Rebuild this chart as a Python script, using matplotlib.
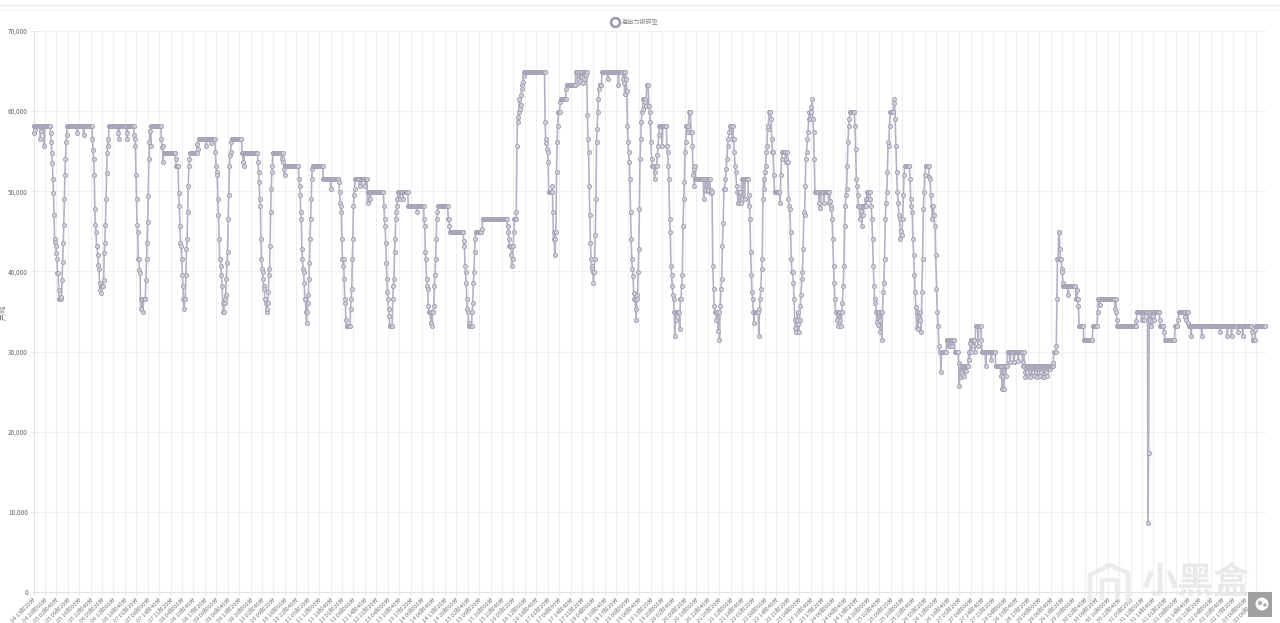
from __future__ import annotations

import matplotlib

matplotlib.use("Agg")
import matplotlib.pyplot as plt
import numpy as np
import pandas as pd
from matplotlib.lines import Line2D
from matplotlib.patches import Circle, Rectangle

plt.rcParams["font.family"] = ["Noto Sans CJK SC", "DejaVu Sans"]

# one sample every 20 minutes, wave_starts is the sample index where a wave begins
wave_starts = [0, 59, 132, 206, 274, 347, 419, 489, 563, 638, 708, 774, 846, 949, 995, 1067,
               1098, 1159, 1242, 1292, 1364, 1429, 1508, 1569, 1586, 1639, 1705, 1791, 1896,
               1931, 1972, 2024, 2157]

wave_01 = [58200, 57300, 57600] + [58200] * 9 + [56500, 57500] + [58200] * 5 + [55700] + [58200] * 10 + [
    57300, 56200, 54800, 53500, 51500, 49800, 47000, 44000, 43700, 43200, 42300, 41500, 39800, 39800,
    37700, 36500, 36500, 36500, 36500, 36800, 38900, 41200, 43600, 45800, 49000, 52000, 54000, 56200, 57000]
wave_02 = [58200] * 17 + [57300] + [58200] * 10 + [57000] + [58200] * 14 + [
    56500, 55200, 54000, 52000, 47800, 45800, 44900, 43200, 43200, 42000, 40800, 40300, 38500, 37700,
    37300, 38200, 38200, 38200, 38200, 38900, 42300, 43600, 45800, 49000, 52300, 54800, 56500, 55700]
wave_03 = [58200] * 16 + [57300, 56500] + [58200] * 12 + [57300, 56500] + [58200] * 11 + [
    57000, 56500, 55700, 52000, 49000, 45800, 44900, 41500, 41500, 40200, 39800, 35300, 36500, 36500,
    36500, 35000, 36500, 36500, 36500, 36500, 38900, 41500, 43600, 46200, 49400, 54000, 56200, 57500, 55700]
wave_04 = [58200] * 17 + [56500, 55500, 55700, 53700] + [54800] * 20 + [54000, 53200, 53200, 53200, 53200] + [
    49800, 48200, 45700, 43600, 43200, 41500, 39500, 38200, 36500, 35300, 36500, 36500, 39500, 42800,
    44000, 47400, 50700, 53200, 54000]
wave_05 = [54800] * 12 + [55900, 55300] + [56500] * 13 + [55700] + [56500] * 6 + [56000] + [56500] * 7 + [
    54870, 53200, 52400, 52000, 49000, 47000, 44000, 41500, 41500, 40700, 39500, 38200, 36100, 34900,
    34900, 36100, 36500, 37000, 39000, 41100, 42400, 46500, 49500, 53200, 54500, 54870, 56100]
wave_06 = [56500] * 18 + [54800, 54800, 53600, 53200] + [54800] * 24 + [
    53600, 52400, 51100, 49000, 48200, 44000, 41500, 40300, 39900, 39000, 38200, 37800, 36500, 36500,
    36100, 34900, 35300, 36100, 37400, 39500, 40300, 43200, 47400, 50300, 52400, 53200]
wave_07 = [54800] * 15 + [54000, 54800, 53600, 54800, 52800, 52000] + [53200] * 24 + [
    51500, 50700, 49500, 47400, 46500, 42800, 41500, 40300, 39900, 38600, 36500, 36500, 34900, 33600,
    34900, 36100, 37000, 39000, 41100, 44000, 46500, 49000, 51500, 52800]
wave_08 = [53200] * 18 + [51500] * 13 + [50300] + [51500] * 13 + [
    51100, 49900, 48600, 48200, 47400, 44000, 41500, 40700, 41500, 39000, 36500, 36100, 34000, 33200,
    33200, 33200, 33200, 33200, 33200, 33200, 35300, 36500, 37800, 41500, 44000, 48200, 49500, 50300]
wave_09 = [51500] * 8 + [50900, 50600] + [51500] * 7 + [50700] + [51500] * 3 + [48600] + [49900] * 4 + [49000] + [49900] * 22 + [
    48200, 46500, 45700, 43600, 41100, 39000, 37400, 36500, 35300, 34500, 33200, 33200, 33200, 33200,
    33200, 36500, 38200, 39000, 42400, 44000, 46500, 47400, 48200, 49000]
wave_10 = [49900] * 3 + [49000] + [49900] * 4 + [49000] + [49900] * 8 + [48200] * 14 + [47400] + [48200] * 11 + [
    46500, 45700, 42400, 41500, 39000, 38200, 37800, 35700, 34900, 34900, 34900, 33600, 34900, 33200,
    34900, 34900, 35700, 38200, 39500, 41500, 44000, 46500, 47400]
wave_11 = [48200] * 17 + [46500, 46500, 45700] + [44900] * 23 + [
    43800, 43200, 40700, 39900, 38600, 36500, 35300, 34900, 33600, 33200, 33200, 33200, 33200, 33200,
    34900, 36100, 38600, 39900, 42400, 44000]
wave_12 = [44900] * 10 + [45300] + [46500] * 40 + [
    45700, 44900, 44000, 43200, 43200, 43200, 42000, 40700, 41500, 43200, 44900, 46500, 46500, 46500, 47400]
wave_13 = [55700, 58600, 59300, 59900, 61500, 60300, 60800, 62000, 62800, 63200, 63600, 64400] + [64900] * 35 + [
    58600, 56500, 56000, 55300, 54900, 53600] + [49900] * 6 + [
    50700, 47400, 44000, 44900, 42000, 44000, 44900, 52400, 56100, 58200, 59900, 59900, 59900, 61100] + [
    61500] * 9 + [62800] + [63200] * 15
wave_14 = [64900] * 3 + [64000, 63500, 64900, 64900, 63800, 64300, 64900, 64900, 64300, 63500, 64900, 64000,
                         64900, 64900, 64500, 64900] + [
    59500, 56500, 54900, 50700, 47000, 43600, 41500, 40700, 40300, 39900, 38600, 39900, 41500, 44500,
    49000, 56100, 57800, 59900, 61500, 62800] + [63200] * 4
wave_15 = [64900] * 9 + [64000] + [64900] * 16 + [63200] + [64900] * 6 + [64000, 64900, 63500, 62200, 64900, 64000, 62500] + [
    58200, 56100, 54900, 53600, 51500, 47400, 44000, 41500, 40300, 39400, 37300, 36500, 36500, 35300,
    34000, 36500, 37000, 39900, 42800, 47800, 54000, 56500, 58600, 59900, 60300]
wave_16 = [61500, 61500, 61500, 61100, 60700, 63200, 63200, 63200, 60700, 59900, 58600, 56100, 54000, 53200,
           53200, 53200, 51500, 52400, 53200, 53200, 54500, 55700, 57000, 58200, 58200]
wave_17 = [58200, 58200, 55700] + [58200] * 6 + [
    55700, 54900, 53200, 51500, 46500, 44900, 40700, 39500, 38200, 37000, 36500, 34900, 32000, 34900,
    34000, 34900, 34900, 34900, 34900, 32800, 36500, 36500, 38200, 39500, 45700, 49000, 51100, 54900,
    56100, 58200, 58200, 57400, 58200, 59900, 59900, 59900, 57400, 57400, 55700, 52000, 52800, 50700, 53200]
wave_18 = [51500] * 11 + [49000, 51500, 50200, 51500, 50000, 51500, 50200, 51500, 51500, 49800, 50200, 49900] + [
    40700, 37800, 35700, 34900, 34900, 33900, 34900, 32600, 34900, 31500, 35700, 37800, 39000, 43200,
    46100, 50300, 50300, 51500, 52800, 54000, 55700, 56500, 57400, 58200, 58200, 58200, 56500, 58200,
    56500, 54900, 53200, 52400, 50700, 49900, 48600, 49900, 48600, 49900, 48600, 51500, 49000]
wave_19 = [51500, 51500, 49000] + [51500] * 5 + [
    48200, 49500, 46500, 42400, 39500, 37400, 36500, 34900, 33600, 34900, 34900, 34900, 34900, 34900,
    34900, 32000, 35300, 36500, 37800, 40300, 41500, 49000, 51500, 50300, 52400, 53200, 54900, 55700,
    57800, 58200, 59900, 59900, 59900, 59000]
wave_20 = [56500, 54900, 54900, 52000] + [49900] * 8 + [48600, 52000, 54000] + [54900] * 5 + [
    53600, 54000, 54900, 53600, 49000, 48200, 47800, 44900, 41500, 39900, 39900, 38600, 36500, 34000,
    33000, 32400, 34000, 34900, 33500, 32400, 34000, 35700, 37000, 39000, 39900, 42800, 47400, 47000,
    50700, 54000, 54900, 56500, 57400, 59000, 59900, 59000, 59900, 60500, 61500]
wave_21 = [59000, 57400, 54000] + [49900] * 6 + [48500, 49900, 47900] + [49900] * 4 + [48500] + [49900] * 6 + [48500, 49900, 48800] + [
    48200, 47800, 46500, 44000, 40700, 38600, 36500, 34900, 34900, 33900, 34900, 33200, 34900, 34000,
    34900, 33200, 34900, 36100, 38200, 40700, 45700, 48200, 49500, 50300, 53200, 56100, 58200, 59000]
wave_22 = [59900] * 7 + [
    58200, 55300, 51500, 50700, 49500, 48200, 48200, 46500, 48200, 47500, 45700, 48200, 47000, 48200,
    48200, 49000, 48200, 49900, 49000, 49900, 49900, 49900, 49000, 48200, 46500, 44000, 40700, 38200,
    36100, 36500, 34900, 33700, 34900, 33300, 34900, 32400, 34000, 34900, 31500, 34900, 37400, 38600,
    41500, 46500, 48600, 49900, 52400, 56100, 55700, 58200, 59900, 59900, 59900, 59900, 59900, 61000, 61500]
wave_23 = [59000, 55700, 52400, 49900, 48600, 47000, 46500, 44000, 45000, 44500, 46500, 49500, 52000] + [53200] * 7 + [
    51500, 49000, 48200, 47400, 44000, 42000, 39500, 37400, 35600, 33000, 34900, 32800, 34900, 34000,
    34900, 32400, 37400, 41500, 47800, 49900, 52000] + [53200] * 5 + [51800]
wave_24 = [51500, 49500, 48200, 46500, 48200, 47000, 45700, 42000, 37800, 34900, 33200, 30700]
wave_25 = [29900, 29900, 27400] + [29900] * 8 + [31500] * 3 + [30700, 31500, 30700] + [31500] * 3 + [30700] + [31500] * 3 + [
    29900] * 6 + [28600, 25700, 28200, 27500, 26800, 28200, 27200, 28200, 28200, 27000, 28200, 28200, 27600,
                  28200, 28200, 28200, 29900, 29000]
wave_26 = [31100, 31500, 30000, 31500, 31500, 30700, 31500, 31500, 29900] + [33200] * 4 + [30700] + [33200] * 4 + [31500] + [
    29900] * 6 + [28200] + [29900] * 8 + [29000] + [29900] * 6 + [28200] * 8 + [27000, 28200, 25300, 28200,
                                                                                 26800, 25300, 28200, 28200, 27000, 28200, 28200]
wave_27 = [29900] * 4 + [28700] + [29900] * 5 + [28700, 28700] + [29900] * 6 + [28800] + [29900] * 6 + [28700, 28200, 29900] + [
    28200, 27400, 26800, 28200, 27400, 28200, 27000, 28200, 28200, 26800, 28200, 27500, 28200, 28200,
    27400, 28200, 27000, 28200, 28200, 27500, 28200, 26800, 28200, 28200, 27400, 28200, 27000, 28200,
    28200, 27500, 28200, 28200, 26800, 26800, 28200, 28200, 27500, 28200, 28200, 27000, 28200, 28200,
    28200, 27800, 28200, 28200, 28200, 28200, 28200, 28600, 29900, 29900, 29900, 29900, 30700]
wave_28 = [36500, 41500, 41500, 44900, 44900, 42800, 41500, 41500, 40300, 39900, 38600] + [38200] * 8 + [37000] + [38200] * 12 + [
    36500, 37700, 36500, 36500, 35700] + [33200] * 8 + [31500] * 15 + [33200] * 8 + [34900] + [36500] * 3 + [35800] + [
    36500] * 24 + [35300, 36500, 34900]
wave_29 = [34000] + [33200] * 30 + [33800]
wave_30 = [34900] * 8 + [34000] + [34900] * 4 + [34000] + [34900] * 5 + [8600, 17400, 34900, 34000, 34900, 33200,
                                                                         34900, 33800, 34900, 34400, 34900, 34000] + [34900] * 8 + [34000]
wave_31 = [33200] * 5 + [32400] + [31500] * 13 + [33200] * 4 + [34000] + [34900] * 7 + [34300, 34900, 33900, 34900, 34900, 33600, 33200]
wave_32 = [33200] * 2 + [32000] + [33200] * 17 + [32000] + [33200] * 30 + [32400] + [33200] * 12 + [32000] + [33200] * 6 + [
    32000] + [33200] * 10 + [32400] + [33200] * 7 + [32000] + [33200] * 15 + [32400] + [31500] * 5 + [32700] + [33200] * 17

waves = [wave_01, wave_02, wave_03, wave_04, wave_05, wave_06, wave_07, wave_08, wave_09, wave_10, wave_11,
         wave_12, wave_13, wave_14, wave_15, wave_16, wave_17, wave_18, wave_19, wave_20, wave_21, wave_22,
         wave_23, wave_24, wave_25, wave_26, wave_27, wave_28, wave_29, wave_30, wave_31, wave_32]

y_ticks = [0, 10000, 20000, 30000, 40000, 50000, 60000, 70000]
y_labels = ["0", "10,000", "20,000", "30,000", "40,000", "50,000", "60,000", "70,000"]
tick_times = pd.date_range("2023-07-04 13:20", periods=108, freq="400min")
x_labels = [f"{t.day:02d} {t.hour:02d}时{t.minute:02d}分" for t in tick_times]
series_name = "高出力锻碎型"
y_title = "产/吨"

LINE = "#b4b2c4"
W, H = 1280, 623

xs, ys = [], []
for i, vals in enumerate(waves):
    xs.append(np.linspace(wave_starts[i], wave_starts[i + 1], len(vals), endpoint=False))
    ys.append(vals)
xs = np.concatenate(xs)
ys = np.concatenate(ys)

fig = plt.figure(figsize=(W / 100, H / 100), dpi=100, facecolor="white")
ax = fig.add_axes([33.5 / W, 1 - 592 / H, (1266 - 33.5) / W, (592 - 31) / H])
ax.plot(xs, ys, color=LINE, lw=1.2, marker="o", ms=2.9, mfc="#d3d1dc", mec="#a5a3b6", mew=0.7,
        clip_on=False, zorder=3)

ax.set_xlim(0, wave_starts[-1])
ax.set_ylim(0, 70000)
ax.set_xticks(np.arange(len(x_labels)) * 20)
ax.set_xticklabels(x_labels, rotation=45, ha="right", rotation_mode="anchor", fontsize=4.2, color="#777777")
ax.set_yticks(y_ticks)
ax.set_yticklabels(y_labels, fontsize=4.6, color="#666666")
ax.tick_params(axis="both", length=2.5, width=0.7, color="#e8e8e8", pad=1.5)
ax.grid(True, color="#efefef", lw=0.8)
ax.set_axisbelow(True)
for side in ("top", "right"):
    ax.spines[side].set_visible(False)
for side in ("left", "bottom"):
    ax.spines[side].set_color("#e2e2e2")
    ax.spines[side].set_linewidth(0.8)
fig.text(3.5 / W, 1 - 312 / H, y_title, rotation=90, fontsize=4.6, color="#666666", ha="center", va="center")

handle = Line2D([], [], ls="", marker="o", ms=6.4, mfc="white", mec="#9a98af", mew=1.8)
fig.legend(handles=[handle], labels=[series_name], loc="center", bbox_to_anchor=(634 / W, 1 - 22 / H),
           frameon=False, fontsize=4.4, labelcolor="#858585", handletextpad=0.1, borderpad=0)

# page chrome of the screenshot: bands on top, watermark and button bottom right
fig.add_artist(Rectangle((0, 1 - 7 / H), 1, 3 / H, transform=fig.transFigure, color="#f3f3f3", lw=0))
fig.add_artist(Rectangle((0, 1 - 11 / H), 1, 1.5 / H, transform=fig.transFigure, color="#f9f9f9", lw=0))
fig.text(1195 / W, 1 - 583 / H, "小黑盒", fontsize=26, fontweight="bold", color="#e3e3e3", alpha=0.75,
         ha="center", va="center")
logo_x = [1090, 1090, 1110, 1128, 1128]
logo_y = [600, 575, 565, 573, 600]
fig.add_artist(Line2D([v / W for v in logo_x], [1 - v / H for v in logo_y], color="#e8e8e8", lw=3.5, alpha=0.8))
fig.add_artist(Line2D([1102 / W, 1102 / W, 1117 / W, 1117 / W], [1 - 598 / H, 1 - 580 / H, 1 - 580 / H, 1 - 598 / H],
                      color="#e8e8e8", lw=3, alpha=0.8))
fig.add_artist(Rectangle((1248 / W, 1 - 617 / H), 24 / W, 25 / H, transform=fig.transFigure, color="#a0a0a0", lw=0))
fig.add_artist(Circle((1262, H - 604), 6.5, transform=None, color="white", lw=0))
fig.add_artist(Circle((1260, H - 603), 2.2, transform=None, color="#b0b0b0", lw=0))
fig.add_artist(Circle((1265, H - 605), 1.8, transform=None, color="#b0b0b0", lw=0))

fig.savefig("out.png", dpi=100)
